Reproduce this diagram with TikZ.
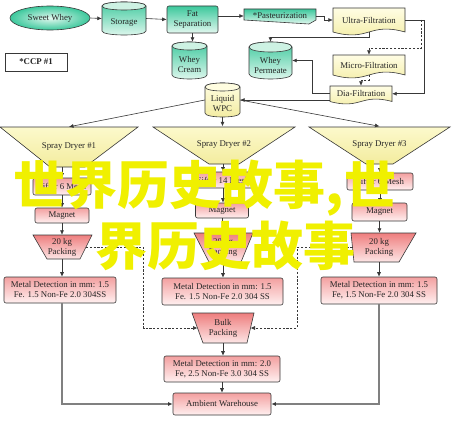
\documentclass[tikz,border=0pt]{standalone}
\usepackage{fontspec}
\setmainfont{Liberation Serif}
\newfontfamily\cjk{Noto Sans CJK SC}
\usetikzlibrary{shapes.geometric,arrows.meta,calc}
\definecolor{ln}{HTML}{383838}
\definecolor{grTop}{HTML}{3CC89C}
\definecolor{grBot}{HTML}{E2F8EF}
\definecolor{grCap}{HTML}{CDF2E3}
\definecolor{ylTop}{HTML}{FFFDE4}
\definecolor{ylBot}{HTML}{F3ECA0}
\definecolor{ylCap}{HTML}{FFFDE0}
\definecolor{sdTop}{HTML}{FCF9CC}
\definecolor{sdBot}{HTML}{F3EC9E}
\definecolor{pkTop}{HTML}{F3A0A0}
\definecolor{pkBot}{HTML}{FFF0F0}
\definecolor{pcTop}{HTML}{EE7E7E}
\definecolor{pcBot}{HTML}{FDE6E6}
\definecolor{wmy}{HTML}{F0F000}
\tikzset{
  txt/.style={font=\fontsize{8.8}{10}\selectfont, text=black!85, align=center, inner sep=0pt},
  lnst/.style={draw=ln, line width=0.6pt},
  grfill/.style={lnst, top color=grTop, bottom color=grBot},
  ylfill/.style={lnst, top color=ylTop, bottom color=ylBot},
  sdfill/.style={lnst, top color=sdTop, bottom color=sdBot},
  pcfill/.style={lnst, top color=pcTop, bottom color=pcBot},
  pkbox/.style={txt, lnst, rounded corners=2pt, top color=pkTop, bottom color=pkBot},
  arr/.style={draw=ln, line width=0.6pt, -{Latex[length=4.5pt,width=4pt]}},
  darr/.style={draw=ln, line width=0.6pt, dash pattern=on 2.2pt off 1.6pt, -{Latex[length=4.5pt,width=4pt]}},
  garr/.style={draw=black!50, line width=1.1pt, -{Latex[length=4.5pt,width=4pt,color=ln]}},
  wmark/.style={font=\cjk\bfseries\fontsize{52}{56}\selectfont, text=wmy, inner sep=0pt}
}
% cylinder: name, cx, cy, w, h, e, body style, cap colour, text
\newcommand{\mycyl}[9]{%
  \pgfmathsetmacro\cxa{#2-#4/2}%
  \pgfmathsetmacro\cxb{#2+#4/2}%
  \pgfmathsetmacro\cya{#3-#5/2+#6}%
  \pgfmathsetmacro\cyb{#3+#5/2-#6}%
  \pgfmathsetmacro\cyc{#3-#5/2+#6-4/3*#6}%
  \pgfmathsetmacro\cyd{#3+#5/2-#6+4/3*#6}%
  \pgfmathsetmacro\cye{#3-#5/2+#6+4/3*#6}%
  \path[#7] (\cxa,\cya) -- (\cxa,\cyb) .. controls (\cxa,\cyd) and (\cxb,\cyd) .. (\cxb,\cyb) -- (\cxb,\cya) .. controls (\cxb,\cyc) and (\cxa,\cyc) .. (\cxa,\cya) -- cycle;
  \path[lnst, fill=#8] (\cxa,\cya) .. controls (\cxa,\cyc) and (\cxb,\cyc) .. (\cxb,\cya) .. controls (\cxb,\cye) and (\cxa,\cye) .. (\cxa,\cya) -- cycle;
  \node[minimum width=#4pt, minimum height=#5pt, inner sep=0pt] (#1) at (#2,#3) {};
  \node[txt] (#1-t) at (#2,{#3+#6}) {#9};
}
% document shape: name, x1, y1, x2, y2, a, style, text
\newcommand{\mydoc}[8]{%
  \pgfmathsetmacro\dw{#4-#2}%
  \pgfmathsetmacro\dh{#5-#6-#3}%
  \pgfmathsetmacro\dxm{(#2+#4)/2}%
  \pgfmathsetmacro\dym{(#3+#5-#6)/2}%
  \pgfmathsetmacro\dyb{#5-#6}%
  \pgfmathsetmacro\dup{#5-#6-3.4*#6}%
  \pgfmathsetmacro\ddn{#5-#6+3.4*#6}%
  \path[#7] (#2,#3) -- (#4,#3) -- (#4,\dyb) .. controls (\dxm,\dup) and (\dxm,\ddn) .. (#2,\dyb) -- cycle;
  \node[txt, minimum width=\dw pt, minimum height=\dh pt] (#1) at (\dxm,\dym) {#8};
}
\begin{document}
\begin{tikzpicture}[x=1pt,y=-1pt]
\useasboundingbox (0,0) rectangle (452,420);
\fill[white] (0,0) rectangle (452,420);

% ---- top row
\node[ellipse, lnst, inner color=grBot, outer color=grTop, minimum width=80pt, minimum height=24pt, txt] (sw) at (50,18) {Sweet Whey};
\mycyl{st}{124}{18.5}{44}{33}{4}{grfill}{grCap}{Storage}
\node[txt, grfill, rounded corners=2pt, minimum width=51pt, minimum height=27pt] (fs) at (192.5,19.5) {Fat\\Separation};
\mycyl{wc}{189.5}{60.5}{35}{37}{4}{grfill}{grCap}{Whey\\Cream}
\node[txt, draw=ln, line width=0.9pt, fill=white, minimum width=62pt, minimum height=18pt, font=\fontsize{8.8}{10}\selectfont\bfseries] (ccp) at (36,62) {*CCP \#1};

\path[grfill] (244,9) -- (316,9) -- (316,20) -- (309,24) -- (244,20) -- cycle;
\node[txt, minimum width=72pt, minimum height=13pt] (past) at (280,16) {*Pasteurization};

\mydoc{uf}{333}{8}{405}{35}{3}{ylfill}{Ultra-Filtration}
\mycyl{wp}{270.5}{60.5}{43}{37}{5}{grfill}{grCap}{Whey\\Permeate}
\mydoc{mf}{333}{55}{405}{78}{3}{ylfill}{Micro-Filtration}
\mydoc{dia}{330}{86}{392}{104}{2.5}{ylfill}{Dia-Filtration}
\mycyl{lwpc}{222.5}{100}{35}{34}{4}{ylfill}{ylCap}{Liquid\\WPC}

% ---- spray dryers
\path[sdfill] (0,127) -- (138,127) -- (85,167) -- (50,167) -- cycle;
\node[txt, minimum width=138pt, minimum height=40pt] (sd1) at (69,147) {Spray Dryer \#1};
\path[sdfill] (153,127) -- (295,127) -- (239,164) -- (209,164) -- cycle;
\node[txt, minimum width=142pt, minimum height=37pt] (sd2) at (224,145) {Spray Dryer \#2};
\path[sdfill] (309,127) -- (450,127) -- (393,164) -- (366,164) -- cycle;
\node[txt, minimum width=141pt, minimum height=37pt] (sd3) at (379.5,145) {Spray Dryer \#3};

% ---- column 1
\node[pkbox, minimum width=58pt, minimum height=17pt] (s1) at (62,186.5) {Sifter 6 Mesh};
\node[pkbox, minimum width=54pt, minimum height=15pt] (m1) at (62,215.5) {Magnet};
\path[pcfill] (33,235) -- (92,235) -- (80,259) -- (47,259) -- cycle;
\node[txt, minimum width=59pt, minimum height=24pt] (p1) at (62,247) {20 kg\\Packing};
\node[pkbox, minimum width=112pt, minimum height=26pt] (md1) at (60,290) {Metal Detection in mm: 1.5\\Fe. 1.5 Non-Fe 2.0 304SS};

% ---- column 2
\node[pkbox, minimum width=60pt, minimum height=16pt] (s2) at (223,180) {Sifter 14 Mesh};
\node[pkbox, minimum width=53pt, minimum height=15pt] (m2) at (222,210.5) {Magnet};
\path[pcfill] (194,233) -- (253,233) -- (241,262) -- (209,262) -- cycle;
\node[txt, minimum width=59pt, minimum height=29pt] (p2) at (223,247.5) {20 kg\\Packing};
\node[pkbox, minimum width=121pt, minimum height=27pt] (md2) at (222.5,291.5) {Metal Detection in mm: 1.5\\Fe. 1.5 Non-Fe 2.0 304 SS};
\path[pcfill] (192,313) -- (254,313) -- (247,343) -- (203,343) -- cycle;
\node[txt, minimum width=62pt, minimum height=30pt] (bulk) at (223,328) {Bulk\\Packing};
\coordinate (bulkl) at (197.5,328);
\coordinate (bulkr) at (250.5,328);
\node[pkbox, minimum width=116pt, minimum height=26pt] (mdc) at (222,369) {Metal Detection in mm: 2.0\\Fe, 2.5 Non-Fe 3.0 304 SS};
\node[pkbox, minimum width=98pt, minimum height=22pt] (aw) at (222,404) {Ambient Warehouse};

% ---- column 3
\node[pkbox, minimum width=66pt, minimum height=17pt] (s3) at (380,181.5) {Sifter 6 Mesh};
\node[pkbox, minimum width=55pt, minimum height=18pt] (m3) at (379.5,212) {Magnet};
\path[pcfill] (351,233) -- (416,233) -- (399,262) -- (354,262) -- cycle;
\node[txt, minimum width=50pt, minimum height=29pt] (p3) at (379,247.5) {20 kg\\Packing};
\node[pkbox, minimum width=116pt, minimum height=27pt] (md3) at (379,290.5) {Metal Detection in mm: 1.5\\Fe, 1.5 Non-Fe 2.0 304 SS};
\coordinate (p1r) at (86,247);
\coordinate (p3l) at (352.5,247.5);

% ---- connectors
\draw[arr] (sw.east) -- (st.west);
\draw[arr] (st.east) -- (fs.west);
\draw[arr] (fs.east |- past.west) -- (past.west);
\draw[arr] (fs.south) -- (fs.south |- wc.north);
\draw[arr] (past.east) -- ++(8,0) |- (uf.west);
\draw[arr] (uf.south) -- ++(0,5) -| (wp.north);
\draw[arr] (uf.east) -- ++(19,0) |- (dia.east);
\draw[darr] ([xshift=16pt]uf.east) -- ++(0,28) -| (mf.north);
\draw[darr] (mf.south) -- ++(0,5) -| (dia.north);
\draw[arr] (dia.west) -- ++(-18,0) |- (wp.east);
\draw[arr] (dia.west |- lwpc.east) -- (lwpc.east);
\draw[arr] (lwpc.west) -- (sd1.north);
\draw[arr] (lwpc.south) -- (lwpc.south |- sd2.north);
\draw[arr] (lwpc.east) -- (sd3.north);

\draw[arr] (s1.north |- sd1.south) -- (s1.north);
\draw[arr] (s1.south) -- (s1.south |- m1.north);
\draw[arr] (m1.south) -- (m1.south |- p1.north);
\draw[arr] (p1.south) -- (p1.south |- md1.north);
\draw[garr] (md1.south -| p1.south) |- (aw.west);

\draw[arr] (s2.north |- sd2.south) -- (s2.north);
\draw[arr] (s2.south) -- (s2.south |- m2.north);
\draw[arr] (m2.south) -- (m2.south |- p2.north);
\draw[arr] (p2.south) -- (p2.south |- md2.north);
\draw[arr] (bulk.south) -- (bulk.south |- mdc.north);
\draw[arr] (mdc.south) -- (mdc.south |- aw.north);

\draw[arr] (s3.north |- sd3.south) -- (s3.north);
\draw[arr] (s3.south) -- (s3.south |- m3.north);
\draw[arr] (m3.south) -- (m3.south |- p3.north);
\draw[arr] (p3.south) -- (p3.south |- md3.north);
\draw[garr] (md3.south) |- (aw.east);

\draw[darr] (p1r) -| ([xshift=-54pt]bulkl) -- (bulkl);
\draw[darr] (p3l) -| ([xshift=46.5pt]bulkr) -- (bulkr);

% ---- watermark
\node[wmark] (wm1) at (205,188) {世界历史故事,世};
\node[wmark] (wm2) at (225,246) {界历史故事};
\end{tikzpicture}
\end{document}
